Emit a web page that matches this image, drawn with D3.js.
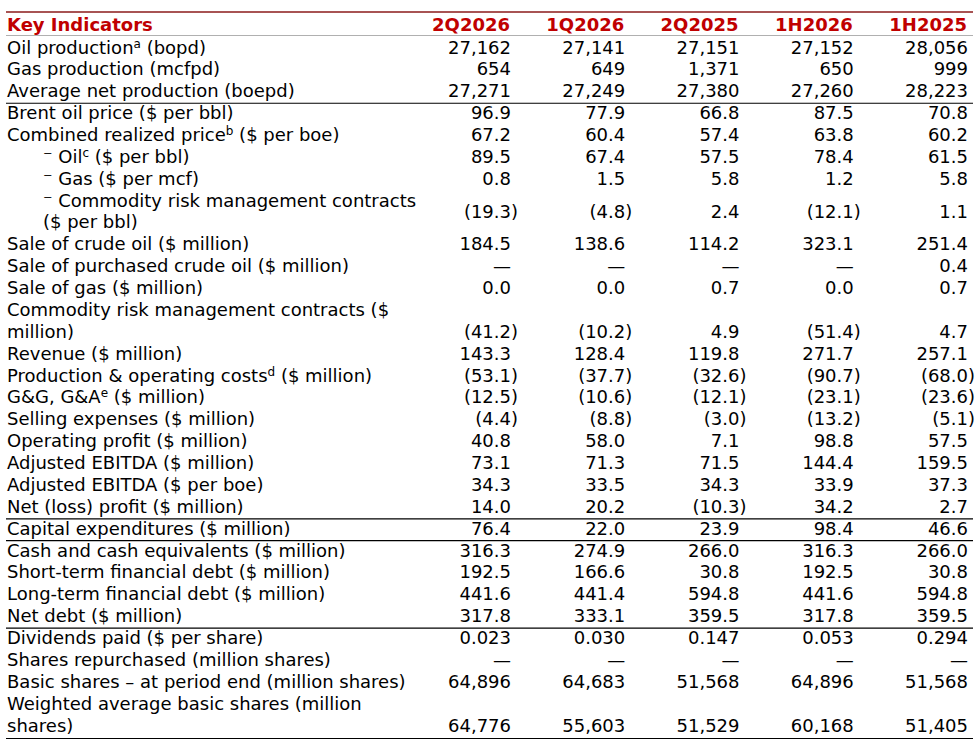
<!DOCTYPE html>
<html>
<head>
<meta charset="utf-8">
<script src="https://cdn.jsdelivr.net/npm/d3@7"></script>
<style>
  body { margin: 0; background: #fff; }
  svg text { font-family: "DejaVu Sans", Verdana, sans-serif; font-size: 18px; fill: #000; }
</style>
</head>
<body>
<svg id="tbl" width="980" height="745"></svg>
<script>
// columns
let columns = ["2Q2026", "1Q2026", "2Q2025", "1H2026", "1H2025"]

// row labels; ^x marks a superscript, | splits a wrapped line
let labels = [
  "Oil production^a (bopd)",
  "Gas production (mcfpd)",
  "Average net production (boepd)",
  "Brent oil price ($ per bbl)",
  "Combined realized price^b ($ per boe)",
  "⁻ Oil^c ($ per bbl)",
  "⁻ Gas ($ per mcf)",
  "⁻ Commodity risk management contracts|($ per bbl)",
  "Sale of crude oil ($ million)",
  "Sale of purchased crude oil ($ million)",
  "Sale of gas ($ million)",
  "Commodity risk management contracts ($|million)",
  "Revenue ($ million)",
  "Production & operating costs^d ($ million)",
  "G&G, G&A^e ($ million)",
  "Selling expenses ($ million)",
  "Operating profit ($ million)",
  "Adjusted EBITDA ($ million)",
  "Adjusted EBITDA ($ per boe)",
  "Net (loss) profit ($ million)",
  "Capital expenditures ($ million)",
  "Cash and cash equivalents ($ million)",
  "Short-term financial debt ($ million)",
  "Long-term financial debt ($ million)",
  "Net debt ($ million)",
  "Dividends paid ($ per share)",
  "Shares repurchased (million shares)",
  "Basic shares – at period end (million shares)",
  "Weighted average basic shares (million|shares)"
]
let indented = [5, 6, 7]
let valueOnLastLine = [11, 28]
let ruleAfter = [2, 19, 20, 24, 28]
let decimals = [0, 0, 0, 1, 1, 1, 1, 1, 1, 1, 1, 1, 1, 1, 1, 1, 1, 1, 1, 1, 1, 1, 1, 1, 1, 3, 0, 0, 0]

// values (null = dash)
let q2_2026 = [27162, 654, 27271, 96.9, 67.2, 89.5, 0.8, -19.3, 184.5, null, 0.0, -41.2, 143.3, -53.1, -12.5, -4.4, 40.8, 73.1, 34.3, 14.0, 76.4, 316.3, 192.5, 441.6, 317.8, 0.023, null, 64896, 64776]
let q1_2026 = [27141, 649, 27249, 77.9, 60.4, 67.4, 1.5, -4.8, 138.6, null, 0.0, -10.2, 128.4, -37.7, -10.6, -8.8, 58.0, 71.3, 33.5, 20.2, 22.0, 274.9, 166.6, 441.4, 333.1, 0.030, null, 64683, 55603]
let q2_2025 = [27151, 1371, 27380, 66.8, 57.4, 57.5, 5.8, 2.4, 114.2, null, 0.7, 4.9, 119.8, -32.6, -12.1, -3.0, 7.1, 71.5, 34.3, -10.3, 23.9, 266.0, 30.8, 594.8, 359.5, 0.147, null, 51568, 51529]
let h1_2026 = [27152, 650, 27260, 87.5, 63.8, 78.4, 1.2, -12.1, 323.1, null, 0.0, -51.4, 271.7, -90.7, -23.1, -13.2, 98.8, 144.4, 33.9, 34.2, 98.4, 316.3, 192.5, 441.6, 317.8, 0.053, null, 64896, 60168]
let h1_2025 = [28056, 999, 28223, 70.8, 60.2, 61.5, 5.8, 1.1, 251.4, 0.4, 0.7, 4.7, 257.1, -68.0, -23.6, -5.1, 57.5, 159.5, 37.3, 2.7, 46.6, 266.0, 30.8, 594.8, 359.5, 0.294, null, 51568, 51405]
let series = [q2_2026, q1_2026, q2_2025, h1_2026, h1_2025]

let red = "#c00000"
let svg = d3.select("#tbl")

// work out which text line each row starts on
let lineStart = []
let n = 0
labels.forEach((l, i) => { lineStart.push(n); n += l.split("|").length })

let y = d3.scaleLinear().domain([0, n - 1]).range([53.5, 731.5])
let x = d3.scalePoint().domain(columns).range([511, 968])
let left = 7, right = 973

// header
svg.append("line").attr("x1", left - 1).attr("x2", right).attr("y1", 12).attr("y2", 12)
  .attr("stroke", "#8b1a1a").attr("stroke-width", 1.5)
svg.append("line").attr("x1", left - 1).attr("x2", right).attr("y1", 35.5).attr("y2", 35.5)
  .attr("stroke", "#b0b0b0").attr("stroke-width", 1)
svg.append("text").attr("x", left).attr("y", 31).attr("font-weight", "bold").style("fill", red)
  .text("Key Indicators")
svg.selectAll(".colhead").data(columns).enter().append("text")
  .attr("class", "colhead")
  .attr("x", d => x(d) - 1).attr("y", 31)
  .attr("text-anchor", "end").attr("font-weight", "bold").style("fill", red)
  .text(d => d)

// labels
labels.forEach((l, i) => {
  let lines = l.split("|")
  lines.forEach((ln, j) => {
    let t = svg.append("text")
      .attr("x", indented.includes(i) ? 43 : left)
      .attr("y", y(lineStart[i] + j))
    let shift = 0
    ln.split(/(\^[a-z])/).forEach(part => {
      if (part.startsWith("^")) {
        t.append("tspan").attr("dy", -6).style("font-size", "12px").text(part.slice(1))
        shift = 6
      } else if (part) {
        t.append("tspan").attr("dy", shift).text(part)
        shift = 0
      }
    })
  })
})

// values
function valueY(i) {
  let k = labels[i].split("|").length
  if (k === 1) return y(lineStart[i])
  if (valueOnLastLine.includes(i)) return y(lineStart[i] + k - 1)
  return (y(lineStart[i]) + y(lineStart[i] + k - 1)) / 2
}

series.forEach((vals, c) => {
  let cx = x(columns[c])
  vals.forEach((v, i) => {
    let vy = valueY(i)
    let f = d3.format(decimals[i] === 0 ? ",.0f" : "." + decimals[i] + "f")
    if (v === null) {
      svg.append("text").attr("x", cx).attr("y", vy).attr("text-anchor", "end").text("—")
    } else if (v < 0) {
      svg.append("text").attr("x", cx).attr("y", vy).attr("text-anchor", "end").text("(" + f(-v))
      svg.append("text").attr("x", cx).attr("y", vy).text(")")
    } else {
      svg.append("text").attr("x", cx).attr("y", vy).attr("text-anchor", "end").text(f(v))
    }
  })
})

// rules under groups
ruleAfter.forEach(i => {
  let k = labels[i].split("|").length
  let ly = y(lineStart[i] + k - 1) + (i === 28 ? 7 : 6)
  svg.append("line").attr("x1", left - 1).attr("x2", right).attr("y1", ly).attr("y2", ly)
    .attr("stroke", "#000").attr("stroke-width", 1.2)
})
</script>
</body>
</html>
